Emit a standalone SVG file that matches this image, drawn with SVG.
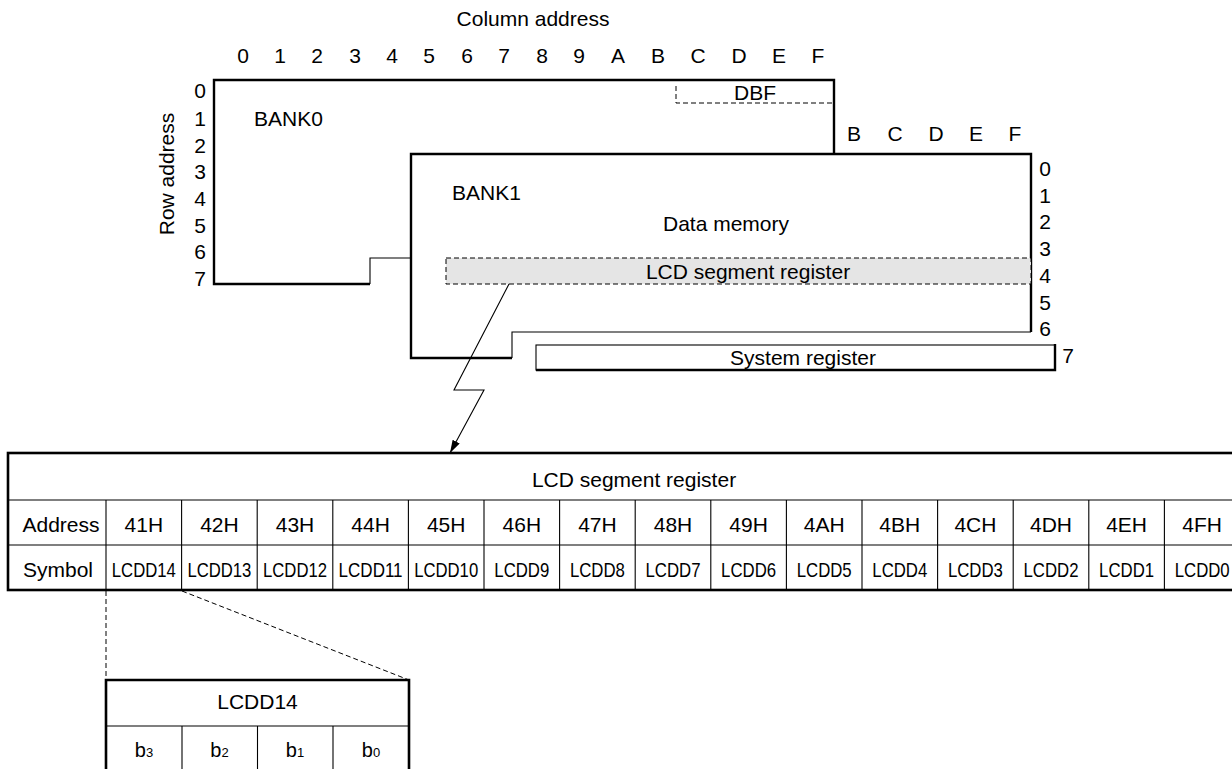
<svg xmlns="http://www.w3.org/2000/svg" width="1232" height="769" viewBox="0 0 1232 769">
<style>
text{font-family:"Liberation Sans",Arial,sans-serif;font-size:21px;fill:#000}
.m{text-anchor:middle}
.thick{fill:none;stroke:#000;stroke-width:2.4}
.thin{fill:none;stroke:#000;stroke-width:1.1}
.dash{fill:none;stroke:#000;stroke-width:1;stroke-dasharray:5 3}
.grid{stroke:#000;stroke-width:1.1}
</style>
<defs>
<marker id="ah" markerUnits="userSpaceOnUse" markerWidth="14" markerHeight="10" refX="13" refY="4" orient="auto">
<path d="M0,0 L13,4 L0,8 z" fill="#000"/>
</marker>
</defs>
<rect width="1232" height="769" fill="#fff"/>

<g id="labels">
<text class="m" x="533" y="26">Column address</text>
<g class="m">
<text class="m" x="243" y="62.5">0</text><text class="m" x="280" y="62.5">1</text><text class="m" x="317" y="62.5">2</text><text class="m" x="355" y="62.5">3</text><text class="m" x="392" y="62.5">4</text><text class="m" x="429" y="62.5">5</text><text class="m" x="467" y="62.5">6</text><text class="m" x="504" y="62.5">7</text><text class="m" x="542" y="62.5">8</text><text class="m" x="579" y="62.5">9</text><text class="m" x="618" y="62.5">A</text><text class="m" x="658" y="62.5">B</text><text class="m" x="698" y="62.5">C</text><text class="m" x="739" y="62.5">D</text><text class="m" x="779" y="62.5">E</text><text class="m" x="818" y="62.5">F</text>
</g>
<text class="m" x="854" y="141">B</text><text class="m" x="895" y="141">C</text><text class="m" x="936" y="141">D</text><text class="m" x="976" y="141">E</text><text class="m" x="1015" y="141">F</text>
<text class="m" transform="translate(174,174) rotate(-90)" x="0" y="0">Row address</text>
<text class="m" x="200" y="98">0</text><text class="m" x="200" y="126">1</text><text class="m" x="200" y="152.5">2</text><text class="m" x="200" y="179">3</text><text class="m" x="200" y="206">4</text><text class="m" x="200" y="232.5">5</text><text class="m" x="200" y="259">6</text><text class="m" x="200" y="286">7</text>
<text class="m" x="1045" y="176">0</text><text class="m" x="1045" y="202.5">1</text><text class="m" x="1045" y="229">2</text><text class="m" x="1045" y="256">3</text><text class="m" x="1045" y="282.5">4</text><text class="m" x="1045" y="309.5">5</text><text class="m" x="1045" y="336">6</text><text class="m" x="1068" y="363">7</text>
</g>

<g id="bank0">
<path d="M214,80 H834 V154 H411 V258 H370 V284 H214 Z" fill="#fff" stroke="none"/>
<path class="thick" d="M834,154 V80 H214 V284 H370"/>
<path class="thin" d="M370,284 V258 H411"/>
<text x="254" y="126">BANK0</text>
</g>

<g id="dbf">
<path class="dash" d="M676,86 V103 H834"/>
<text class="m" x="755" y="100">DBF</text>
</g>

<g id="bank1">
<path d="M411,154 H1031 V332 H512 V358 H411 Z" fill="#fff" stroke="none"/>
<path class="thick" d="M512,358 H411 V154 H1031 V332"/>
<path class="thin" d="M1031,332 H512 V358"/>
<text x="452" y="200">BANK1</text>
<text class="m" x="726" y="231">Data memory</text>
</g>

<g id="lcdseg">
<rect x="446" y="258" width="585" height="26" fill="#e5e5e5" stroke="#000" stroke-width="1" stroke-dasharray="5 3"/>
<text class="m" x="748" y="279">LCD segment register</text>
</g>

<g id="sysreg">
<rect x="536" y="345" width="519" height="25" fill="#fff" class="thin"/>
<path class="thick" d="M1055,344 V370 H536"/>
<text class="m" x="803" y="365">System register</text>
</g>

<g id="connectors">
<polyline points="509,284 454,390 484,390 450,453" fill="none" stroke="#000" stroke-width="1.1" marker-end="url(#ah)"/>
<line class="dash" x1="106" y1="591" x2="106" y2="680"/>
<line class="dash" x1="182" y1="591" x2="409" y2="680"/>
</g>

<g id="table">
<rect x="8" y="453" width="1240" height="137" fill="#fff" stroke="#000" stroke-width="2.6"/>
<line class="grid" x1="8" y1="500" x2="1240" y2="500"/>
<line class="grid" x1="8" y1="545" x2="1240" y2="545"/>
<g class="grid">
<line x1="106" y1="500" x2="106" y2="590"/><line x1="181.6" y1="500" x2="181.6" y2="590"/><line x1="257.2" y1="500" x2="257.2" y2="590"/><line x1="332.8" y1="500" x2="332.8" y2="590"/><line x1="408.4" y1="500" x2="408.4" y2="590"/><line x1="484" y1="500" x2="484" y2="590"/><line x1="559.6" y1="500" x2="559.6" y2="590"/><line x1="635.2" y1="500" x2="635.2" y2="590"/><line x1="710.8" y1="500" x2="710.8" y2="590"/><line x1="786.4" y1="500" x2="786.4" y2="590"/><line x1="862" y1="500" x2="862" y2="590"/><line x1="937.6" y1="500" x2="937.6" y2="590"/><line x1="1013.2" y1="500" x2="1013.2" y2="590"/><line x1="1088.8" y1="500" x2="1088.8" y2="590"/><line x1="1164.4" y1="500" x2="1164.4" y2="590"/>
</g>
<text class="m" x="634" y="486.5">LCD segment register</text>
<text class="m" x="61" y="531.5">Address</text>
<text class="m" x="58" y="576.5">Symbol</text>
<g>
<text class="m" x="143.8" y="531.5">41H</text><text class="m" x="219.4" y="531.5">42H</text><text class="m" x="295" y="531.5">43H</text><text class="m" x="370.6" y="531.5">44H</text><text class="m" x="446.2" y="531.5">45H</text><text class="m" x="521.8" y="531.5">46H</text><text class="m" x="597.4" y="531.5">47H</text><text class="m" x="673" y="531.5">48H</text><text class="m" x="748.6" y="531.5">49H</text><text class="m" x="824.2" y="531.5">4AH</text><text class="m" x="899.8" y="531.5">4BH</text><text class="m" x="975.4" y="531.5">4CH</text><text class="m" x="1051" y="531.5">4DH</text><text class="m" x="1126.6" y="531.5">4EH</text><text class="m" x="1202.2" y="531.5">4FH</text>
</g>
<g>
<text class="m" x="143.8" y="576.5" textLength="64" lengthAdjust="spacingAndGlyphs">LCDD14</text>
<text class="m" x="219.4" y="576.5" textLength="64" lengthAdjust="spacingAndGlyphs">LCDD13</text>
<text class="m" x="295" y="576.5" textLength="64" lengthAdjust="spacingAndGlyphs">LCDD12</text>
<text class="m" x="370.6" y="576.5" textLength="64" lengthAdjust="spacingAndGlyphs">LCDD11</text>
<text class="m" x="446.2" y="576.5" textLength="64" lengthAdjust="spacingAndGlyphs">LCDD10</text>
<text class="m" x="521.8" y="576.5" textLength="55" lengthAdjust="spacingAndGlyphs">LCDD9</text>
<text class="m" x="597.4" y="576.5" textLength="55" lengthAdjust="spacingAndGlyphs">LCDD8</text>
<text class="m" x="673" y="576.5" textLength="55" lengthAdjust="spacingAndGlyphs">LCDD7</text>
<text class="m" x="748.6" y="576.5" textLength="55" lengthAdjust="spacingAndGlyphs">LCDD6</text>
<text class="m" x="824.2" y="576.5" textLength="55" lengthAdjust="spacingAndGlyphs">LCDD5</text>
<text class="m" x="899.8" y="576.5" textLength="55" lengthAdjust="spacingAndGlyphs">LCDD4</text>
<text class="m" x="975.4" y="576.5" textLength="55" lengthAdjust="spacingAndGlyphs">LCDD3</text>
<text class="m" x="1051" y="576.5" textLength="55" lengthAdjust="spacingAndGlyphs">LCDD2</text>
<text class="m" x="1126.6" y="576.5" textLength="55" lengthAdjust="spacingAndGlyphs">LCDD1</text>
<text class="m" x="1202.2" y="576.5" textLength="55" lengthAdjust="spacingAndGlyphs">LCDD0</text>
</g>
</g>

<g id="lcdd14">
<path d="M106,780 V680 H409 V780" fill="#fff" stroke="#000" stroke-width="2.6"/>
<line class="grid" x1="106" y1="726" x2="409" y2="726"/>
<line class="grid" x1="182" y1="726" x2="182" y2="780"/>
<line class="grid" x1="257.5" y1="726" x2="257.5" y2="780"/>
<line class="grid" x1="333" y1="726" x2="333" y2="780"/>
<text class="m" x="257.5" y="709">LCDD14</text>
<text class="m" x="144" y="756.5" style="font-size:20px">b<tspan style="font-size:13px">3</tspan></text>
<text class="m" x="219.5" y="756.5" style="font-size:20px">b<tspan style="font-size:13px">2</tspan></text>
<text class="m" x="295" y="756.5" style="font-size:20px">b<tspan style="font-size:13px">1</tspan></text>
<text class="m" x="371" y="756.5" style="font-size:20px">b<tspan style="font-size:13px">0</tspan></text>
</g>
</svg>
